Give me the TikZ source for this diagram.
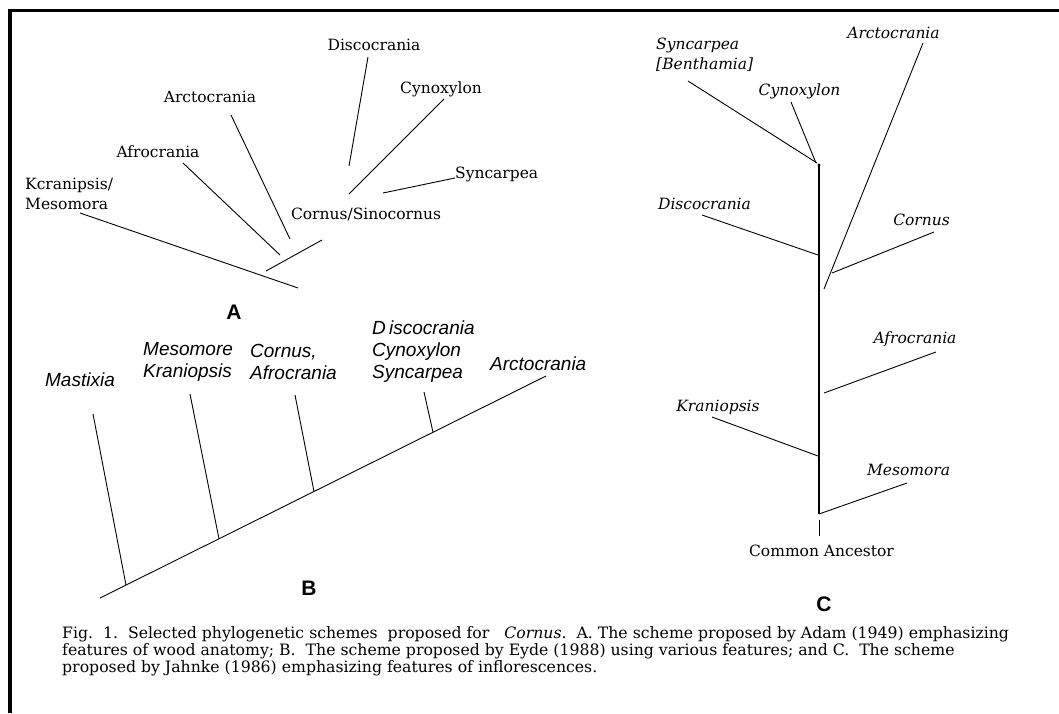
\documentclass[tikz,border=0pt]{standalone}
\usepackage{fontspec}
\setmainfont{DejaVu Serif}
\setsansfont{Liberation Sans}
\tikzset{
  taxA/.style={font=\fontsize{15.5}{20}\selectfont,inner sep=0pt,align=left},
  taxB/.style={font=\sffamily\itshape\fontsize{19}{22}\selectfont,inner sep=0pt,align=left},
  taxC/.style={font=\itshape\fontsize{15.5}{20}\selectfont,inner sep=0pt,align=left},
  panel/.style={font=\sffamily\bfseries\fontsize{21}{24}\selectfont,inner sep=0pt},
  capt/.style={font=\fontsize{15.7}{17}\selectfont,inner sep=0pt,align=left},
  branch/.style={line width=.9pt,black},
  trunk/.style={line width=1.4pt,black},
  frame/.style={line width=3.6pt,black}
}
\begin{document}
\begin{tikzpicture}[x=1pt,y=-1pt]
  \useasboundingbox (0,0) rectangle (1059,713);
  \draw[frame] (1059,10.5) -- (10.2,10.5) -- (10.2,713);
  % scheme A
  \node[taxA] (aDis) at (374,45) {Discocrania};
  \node[taxA] (aCyn) at (441,89) {Cynoxylon};
  \node[taxA] (aArc) at (210,97) {Arctocrania};
  \node[taxA] (aAfr) at (158,152) {Afrocrania};
  \node[taxA,anchor=west] (aKra) at (25,194) {Kcranipsis/\\Mesomora};
  \node[taxA,anchor=base west] (aSyn) at (455,178) {Syncarpea};
  \node[taxA] (aCor) at (366,214) {Cornus/Sinocornus};
  \coordinate (aDis1) at (368,57);  \coordinate (aDis2) at (349,166);
  \coordinate (aCyn1) at (444,99);  \coordinate (aCyn2) at (349,194);
  \coordinate (aSyn2) at (383,193);
  \coordinate (aArc1) at (231,115); \coordinate (aArc2) at (290,239);
  \coordinate (aAfr1) at (183,163); \coordinate (aAfr2) at (280,255);
  \coordinate (aMid1) at (266,271); \coordinate (aMid2) at (322,240);
  \coordinate (aKra1) at (80,213);  \coordinate (aKra2) at (298,288);
  \draw[branch] (aDis1) -- (aDis2);
  \draw[branch] (aCyn1) -- (aCyn2);
  \draw[branch] (aSyn.base west) -- (aSyn2);
  \draw[branch] (aArc1) -- (aArc2);
  \draw[branch] (aAfr1) -- (aAfr2);
  \draw[branch] (aMid1) -- (aMid2);
  \draw[branch] (aKra1) -- (aKra2);
  \node[panel] (pA) at (234,312) {A};
  % scheme B
  \node[taxB] (bMas) at (80,380) {Mastixia};
  \node[taxB,anchor=west] (bMes) at (143,362) {Mesomore\\Kraniopsis};
  \node[taxB,anchor=west] (bCor) at (250,362) {Cornus,\\Afrocrania};
  \node[taxB,anchor=west] (bDis) at (372,352) {D\,iscocrania\\Cynoxylon\\Syncarpea};
  \node[taxB,anchor=west] (bArc) at (490,364) {Arctocrania};
  \coordinate (bBase) at (100,598);   \coordinate (bTip) at (546,376);
  \coordinate (bMas1) at (93,414);    \coordinate (bMas2) at (126,585);
  \coordinate (bMes1) at (190,394);   \coordinate (bMes2) at (219,538.8);
  \coordinate (bCor1) at (295,395);   \coordinate (bCor2) at (314,491.5);
  \coordinate (bDis1) at (424,392);   \coordinate (bDis2) at (433,432.2);
  \draw[branch] (bBase) -- (bTip);
  \draw[branch] (bMas1) -- (bMas2);
  \draw[branch] (bMes1) -- (bMes2);
  \draw[branch] (bCor1) -- (bCor2);
  \draw[branch] (bDis1) -- (bDis2);
  \node[panel] (pB) at (309,588) {B};
  % scheme C
  \node[taxC,anchor=west] (cSyn) at (656,55) {Syncarpea\\{[}Benthamia{]}};
  \node[taxC] (cCyn) at (799.5,91) {Cynoxylon};
  \node[taxC] (cArc) at (893.5,33) {Arctocrania};
  \node[taxC] (cDis) at (704.5,204) {Discocrania};
  \node[taxC] (cCor) at (921.5,220) {Cornus};
  \node[taxC] (cAfr) at (915,339) {Afrocrania};
  \node[taxC] (cKra) at (718,407) {Kraniopsis};
  \node[taxC] (cMes) at (908.5,470) {Mesomora};
  \node[taxA] (cAnc) at (821.5,551) {Common Ancestor};
  \coordinate (cTop) at (819,165);   \coordinate (cBot) at (819,514);
  \coordinate (cStub1) at (819,520); \coordinate (cStub2) at (819,536);
  \coordinate (cSyn1) at (688,81);   \coordinate (cSyn2) at (817,163);
  \coordinate (cCyn1) at (791,102);  \coordinate (cCyn2) at (816,163);
  \coordinate (cArc1) at (923,43);   \coordinate (cArc2) at (824,289);
  \coordinate (cDis1) at (702,215);  \coordinate (cDis2) at (818,255);
  \coordinate (cCor1) at (934,232);  \coordinate (cCor2) at (832,273);
  \coordinate (cAfr1) at (936,352);  \coordinate (cAfr2) at (824,393);
  \coordinate (cKra1) at (712,417);  \coordinate (cKra2) at (818,456);
  \coordinate (cMes1) at (907,483);  \coordinate (cMes2) at (819,514);
  \draw[trunk] (cTop) -- (cBot);
  \draw[branch] (cStub1) -- (cStub2);
  \fill (cTop) circle (1.7);
  \draw[branch] (cSyn1) -- (cSyn2);
  \draw[branch] (cCyn1) -- (cCyn2);
  \draw[branch] (cArc1) -- (cArc2);
  \draw[branch] (cDis1) -- (cDis2);
  \draw[branch] (cCor1) -- (cCor2);
  \draw[branch] (cAfr1) -- (cAfr2);
  \draw[branch] (cKra1) -- (cKra2);
  \draw[branch] (cMes1) -- (cMes2);
  \node[panel] (pC) at (824,604) {C};
  % caption
  \node[capt,anchor=north west] (capt) at (62,626)
    {Fig.\ \ 1.\ \ Selected phylogenetic schemes\ \ proposed for\ \ \ \textit{Cornus}.\ \ A. The scheme proposed by Adam (1949) emphasizing\\
     features of wood anatomy; B.\ \ The scheme proposed by Eyde (1988) using various features; and C.\ \ The scheme\\
     proposed by Jahnke (1986) emphasizing features of inflorescences.};
\end{tikzpicture}
\end{document}
